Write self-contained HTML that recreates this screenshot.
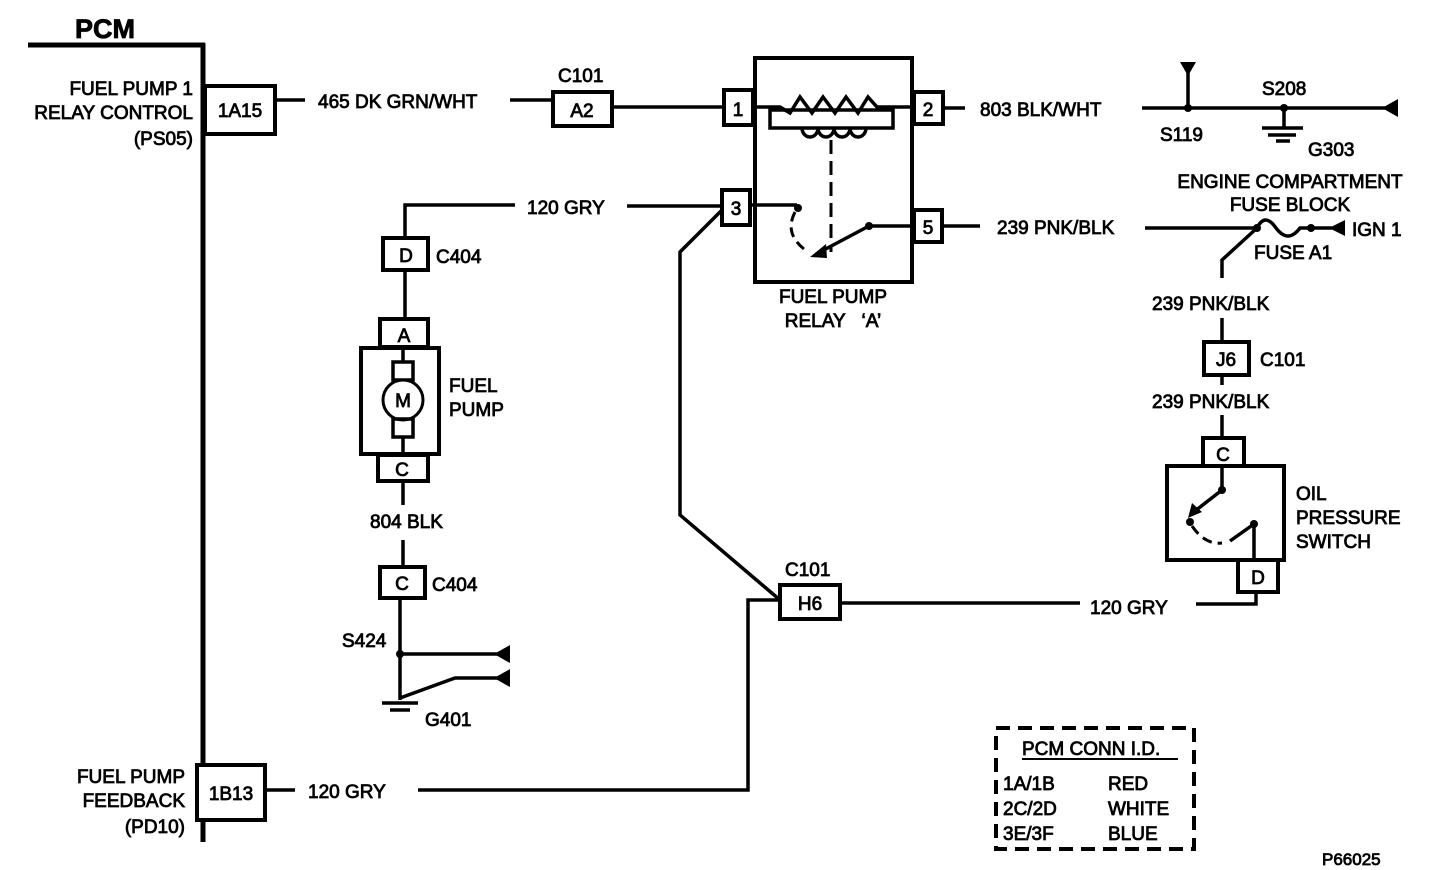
<!DOCTYPE html>
<html><head><meta charset="utf-8"><style>
html,body{margin:0;padding:0;background:#fff;}
svg{display:block;}
text{font-family:"Liberation Sans",Arial,sans-serif;font-size:19px;fill:#000;stroke:#000;stroke-width:0.8;}
.b{fill:#fff;stroke:#000;stroke-width:4;}
.w{fill:none;stroke:#000;stroke-width:3.5;}
</style></head><body>
<svg width="1440" height="870" viewBox="0 0 1440 870" xmlns="http://www.w3.org/2000/svg">
<!-- PCM -->
<text x="75" y="38" style="font-size:27px;font-weight:bold;stroke-width:0.8">PCM</text>
<line x1="28" y1="45" x2="205" y2="45" stroke="#000" stroke-width="5"/>
<line x1="203" y1="43" x2="203" y2="842" stroke="#000" stroke-width="5"/>
<text x="193" y="95" text-anchor="end">FUEL PUMP 1</text>
<text x="193" y="119" text-anchor="end">RELAY CONTROL</text>
<text x="193" y="145" text-anchor="end">(PS05)</text>
<rect class="b" x="205" y="86" width="70" height="48"/>
<text x="240" y="117" text-anchor="middle">1A15</text>
<line class="w" x1="275" y1="100" x2="305" y2="100"/>
<text x="318" y="108">465 DK GRN/WHT</text>
<line class="w" x1="510" y1="100" x2="553" y2="100"/>
<text x="558" y="82">C101</text>
<rect class="b" x="553" y="92" width="59" height="34"/>
<text x="582" y="117" text-anchor="middle">A2</text>
<line class="w" x1="612" y1="107" x2="725" y2="107"/>
<!-- Relay -->
<rect class="b" x="755" y="58" width="157" height="224"/>
<rect class="b" x="724" y="90" width="29" height="35"/>
<text x="738" y="116" text-anchor="middle">1</text>
<rect class="b" x="914" y="92" width="29" height="32"/>
<text x="928" y="116" text-anchor="middle">2</text>
<rect class="b" x="722" y="190" width="28" height="35"/>
<text x="736" y="215" text-anchor="middle">3</text>
<rect class="b" x="914" y="210" width="28" height="32"/>
<text x="928" y="234" text-anchor="middle">5</text>
<polyline class="w" points="755,107 780,107 790,113 800,97 812,113 823,97 835,113 846,97 858,113 868,97 877,107 912,107"/>
<rect class="w" x="770" y="110" width="123" height="18"/>
<path class="w" d="M802,128 a8,9 0 0 0 16,0 a8,9 0 0 0 16,0 a8,9 0 0 0 16,0 a8,9 0 0 0 16,0"/>
<line x1="831" y1="140" x2="831" y2="252" stroke="#000" stroke-width="3" stroke-dasharray="14,7"/>
<line class="w" x1="752" y1="205" x2="797" y2="205"/>
<circle cx="798" cy="208" r="4"/>
<path d="M795,212 Q783,235 808,252" fill="none" stroke="#000" stroke-width="3" stroke-dasharray="10,6"/>
<polygon points="810,257 826,244 827,258"/>
<line class="w" x1="820" y1="252" x2="869" y2="226"/>
<circle cx="869" cy="226" r="4"/>
<line class="w" x1="869" y1="226" x2="914" y2="226"/>
<text x="833" y="303" text-anchor="middle">FUEL PUMP</text>
<text x="833" y="327" text-anchor="middle">RELAY&#160;&#160; ‘A’</text>
<!-- 803 -->
<line class="w" x1="943" y1="108" x2="965" y2="108"/>
<text x="980" y="116">803 BLK/WHT</text>
<line class="w" x1="1142" y1="108" x2="1385" y2="108"/>
<polygon points="1382,108 1398,99 1398,117"/>
<circle cx="1188" cy="108" r="4"/>
<line class="w" x1="1188" y1="108" x2="1188" y2="68"/>
<polygon points="1180,62 1196,62 1188,76"/>
<text x="1160" y="141">S119</text>
<circle cx="1284" cy="108" r="4"/>
<text x="1262" y="95">S208</text>
<line class="w" x1="1284" y1="108" x2="1284" y2="128"/>
<line class="w" x1="1262" y1="128" x2="1303" y2="128"/>
<line class="w" x1="1268" y1="135" x2="1296" y2="135"/>
<line class="w" x1="1276" y1="141" x2="1290" y2="141"/>
<text x="1308" y="156">G303</text>
<!-- 239 -->
<line class="w" x1="942" y1="226" x2="980" y2="226"/>
<text x="997" y="234">239 PNK/BLK</text>
<line class="w" x1="1145" y1="228" x2="1257" y2="228"/>
<text x="1290" y="188" text-anchor="middle">ENGINE COMPARTMENT</text>
<text x="1290" y="211" text-anchor="middle">FUSE BLOCK</text>
<circle cx="1257" cy="228" r="4"/>
<path class="w" d="M1257,228 Q1265,212 1276,228 Q1288,244 1300,228 L1310,228"/>
<circle cx="1311" cy="228" r="4"/>
<line class="w" x1="1311" y1="228" x2="1332" y2="228"/>
<polygon points="1329,228 1345,220 1345,236"/>
<text x="1352" y="236">IGN 1</text>
<text x="1254" y="259">FUSE A1</text>
<polyline class="w" points="1257,228 1222,260 1222,278"/>
<text x="1152" y="310">239 PNK/BLK</text>
<line class="w" x1="1222" y1="318" x2="1222" y2="343"/>
<rect class="b" x="1204" y="342" width="45" height="33"/>
<text x="1226" y="366" text-anchor="middle">J6</text>
<text x="1260" y="366">C101</text>
<line class="w" x1="1222" y1="375" x2="1222" y2="385"/>
<text x="1152" y="408">239 PNK/BLK</text>
<line class="w" x1="1222" y1="415" x2="1222" y2="440"/>
<rect class="b" x="1203" y="438" width="41" height="28"/>
<text x="1223" y="461" text-anchor="middle">C</text>
<rect class="b" x="1167" y="466" width="117" height="94"/>
<rect class="b" x="1238" y="560" width="40" height="32"/>
<text x="1258" y="584" text-anchor="middle">D</text>
<line class="w" x1="1222" y1="467" x2="1222" y2="490"/>
<circle cx="1222" cy="490" r="4"/>
<line class="w" x1="1222" y1="490" x2="1195" y2="511"/>
<polygon points="1188,518 1192,503 1202,512"/>
<circle cx="1190" cy="522" r="4"/>
<path d="M1192,526 Q1205,545 1222,543" fill="none" stroke="#000" stroke-width="3" stroke-dasharray="10,6"/>
<line class="w" x1="1230" y1="541" x2="1254" y2="524"/>
<circle cx="1254" cy="524" r="4"/>
<line class="w" x1="1254" y1="524" x2="1254" y2="560"/>
<text x="1296" y="500">OIL</text>
<text x="1296" y="524">PRESSURE</text>
<text x="1296" y="548">SWITCH</text>
<polyline class="w" points="1256,592 1256,604 1196,604"/>
<text x="1090" y="614">120 GRY</text>
<line class="w" x1="840" y1="603" x2="1080" y2="603"/>
<text x="785" y="576">C101</text>
<rect class="b" x="780" y="585" width="60" height="34"/>
<text x="810" y="610" text-anchor="middle">H6</text>
<polyline class="w" points="722,210 680,252 680,515 780,600"/>
<polyline class="w" points="780,600 748,600 748,790 418,790"/>
<!-- 120 GRY top -->
<line class="w" x1="627" y1="206" x2="722" y2="206"/>
<text x="527" y="214">120 GRY</text>
<polyline class="w" points="515,205 405,205 405,240"/>
<rect class="b" x="383" y="238" width="45" height="32"/>
<text x="406" y="262" text-anchor="middle">D</text>
<text x="436" y="263">C404</text>
<line class="w" x1="405" y1="270" x2="405" y2="320"/>
<rect class="b" x="380" y="319" width="48" height="28"/>
<text x="404" y="342" text-anchor="middle">A</text>
<rect class="b" x="361" y="348" width="78" height="106"/>
<line class="w" x1="403" y1="348" x2="403" y2="362"/>
<rect class="w" x="393" y="362" width="20" height="18"/>
<circle cx="403" cy="400" r="20" fill="#fff" stroke="#000" stroke-width="3"/>
<text x="403" y="407" text-anchor="middle">M</text>
<rect class="w" x="393" y="419" width="20" height="18"/>
<line class="w" x1="403" y1="437" x2="403" y2="454"/>
<text x="449" y="392">FUEL</text>
<text x="449" y="416">PUMP</text>
<rect class="b" x="378" y="455" width="50" height="26"/>
<text x="402" y="476" text-anchor="middle">C</text>
<line class="w" x1="403" y1="481" x2="403" y2="505"/>
<text x="370" y="528">804 BLK</text>
<line class="w" x1="403" y1="540" x2="403" y2="567"/>
<rect class="b" x="380" y="567" width="45" height="31"/>
<text x="402" y="590" text-anchor="middle">C</text>
<text x="432" y="591">C404</text>
<line class="w" x1="400" y1="598" x2="400" y2="700"/>
<text x="342" y="647">S424</text>
<circle cx="400" cy="654" r="4"/>
<line class="w" x1="400" y1="654" x2="500" y2="654"/>
<polygon points="494,654 510,645 510,663"/>
<polyline class="w" points="400,698 455,678 500,678"/>
<polygon points="494,678 510,669 510,687"/>
<line class="w" x1="382" y1="703" x2="418" y2="703"/>
<line class="w" x1="390" y1="710" x2="410" y2="710"/>
<text x="425" y="726">G401</text>
<!-- 1B13 -->
<text x="185" y="783" text-anchor="end">FUEL PUMP</text>
<text x="185" y="807" text-anchor="end">FEEDBACK</text>
<text x="185" y="833" text-anchor="end">(PD10)</text>
<rect class="b" x="197" y="765" width="68" height="55"/>
<text x="231" y="800" text-anchor="middle">1B13</text>
<line class="w" x1="265" y1="790" x2="295" y2="790"/>
<text x="308" y="798">120 GRY</text>
<!-- PCM CONN ID -->
<rect x="996" y="728" width="198" height="121" fill="none" stroke="#000" stroke-width="4" stroke-dasharray="14,8"/>
<text x="1022" y="755">PCM CONN I.D.</text>
<line x1="1022" y1="759" x2="1178" y2="759" stroke="#000" stroke-width="2"/>
<text x="1003" y="790">1A/1B</text>
<text x="1108" y="790">RED</text>
<text x="1003" y="815">2C/2D</text>
<text x="1108" y="815">WHITE</text>
<text x="1003" y="840">3E/3F</text>
<text x="1108" y="840">BLUE</text>
<text x="1322" y="865" style="font-size:17px">P66025</text>
</svg>
</body></html>
